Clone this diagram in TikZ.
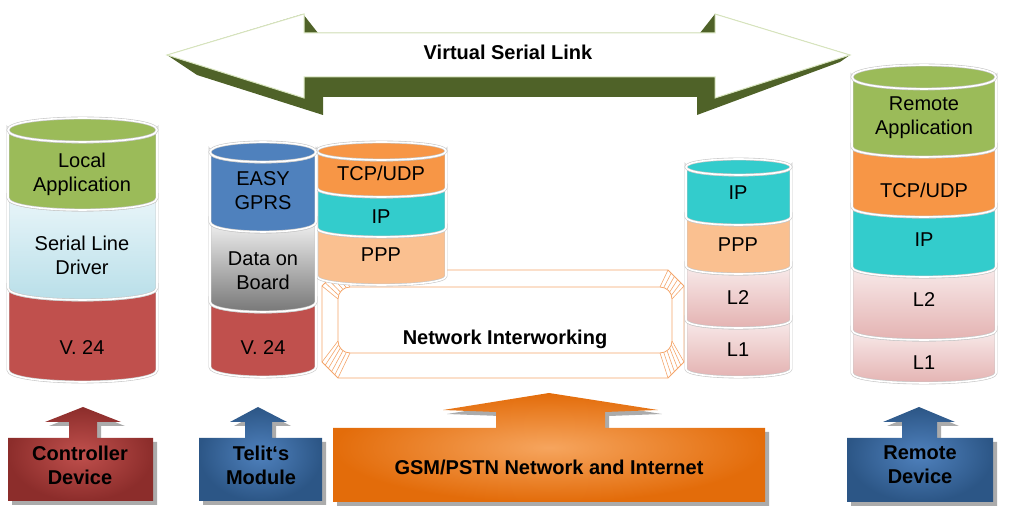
\documentclass[tikz,border=0pt]{standalone}
\usepackage{fontspec}
\setmainfont{Liberation Sans}
\usetikzlibrary{shadows}

\definecolor{appgreen}{HTML}{9BBB59}
\definecolor{v24red}{HTML}{C0504D}
\definecolor{gprsblue}{HTML}{4F81BD}
\definecolor{tcporange}{HTML}{F79646}
\definecolor{ipteal}{HTML}{33CCCC}
\definecolor{ppppeach}{HTML}{FAC090}
\definecolor{linkdark}{HTML}{4F6228}
\definecolor{linkrim}{HTML}{D7E4BD}
\definecolor{pinktop}{HTML}{F8EAEA}
\definecolor{pinkbot}{HTML}{E3B0AF}
\definecolor{drvtop}{HTML}{E8F5F9}
\definecolor{drvbot}{HTML}{B7DEE8}
\definecolor{boxred}{HTML}{8C2D2B}
\definecolor{boxblue}{HTML}{2C5686}
\definecolor{boxorange}{HTML}{E36C0A}
\definecolor{boxlight}{HTML}{F6A55E}
\definecolor{netline}{HTML}{F4A56A}

% one layer of a stack: left, right, top, bottom, ellipse radius, style
\newcommand{\stacklayer}[6]{%
  \path[#6] (#1,#3) -- (#1,#4) .. controls (#1,#4+1.33*#5) and (#2,#4+1.33*#5) .. (#2,#4)
    -- (#2,#3) .. controls (#2,#3+1.33*#5) and (#1,#3+1.33*#5) .. (#1,#3) -- cycle;}
% top face of a stack: left, right, top, ellipse radius, style
\newcommand{\stacktop}[5]{%
  \path[#5] (#1,#3) .. controls (#1,#3-1.33*#4) and (#2,#3-1.33*#4) .. (#2,#3)
    .. controls (#2,#3+1.33*#4) and (#1,#3+1.33*#4) .. (#1,#3) -- cycle;}

\begin{document}
\begin{tikzpicture}[x=1pt,y=-1pt,
    rim/.style={draw=black!22, double=white, double distance=1.6pt, line width=0.6pt},
    lbl/.style={font=\fontsize{20}{24}\selectfont, align=center, inner sep=0pt},
    blbl/.style={font=\fontsize{20}{24}\selectfont\bfseries, align=center, inner sep=0pt},
    boxshadow/.style={drop shadow={shadow xshift=4pt, shadow yshift=-4pt, fill=black!60, opacity=.55}},
    netpart/.style={draw=netline, line width=0.8pt}
    ]
\useasboundingbox (0,0) rectangle (1010,510);

% virtual serial link
\fill[linkdark] (167,55) -- (303,14) -- (318,33) -- (700,33) -- (715,14) -- (850,55) -- (840,62)
  -- (697,115) -- (697,97) -- (323,97) -- (323,115) -- (197,75) -- cycle;
\filldraw[fill=white, draw=linkrim, line width=1pt] (167,55) -- (304,14) -- (304,33) -- (715,33)
  -- (715,14) -- (850,55) -- (715,98) -- (715,77) -- (304,77) -- (304,98) -- cycle;
\node[blbl] (vsl) at (508,52) {Virtual Serial Link};

% network interworking
\draw[netpart] (338,270) -- (668,270) -- (684,286) -- (684,362) -- (668,378) -- (338,378)
  -- (322,362) -- (322,286) -- cycle;
\draw[netpart, rounded corners=12pt] (338,287) rectangle (672,353);
\foreach \a in {0,18,...,90} {
  \draw[netpart, line width=0.6pt] ({350-12*cos(\a)},{299-12*sin(\a)}) -- ({322+16*\a/90},{286-16*\a/90});
  \draw[netpart, line width=0.6pt] ({350-12*cos(\a)},{341+12*sin(\a)}) -- ({322+16*\a/90},{362+16*\a/90});
  \draw[netpart, line width=0.6pt] ({660+12*cos(\a)},{341+12*sin(\a)}) -- ({684-16*\a/90},{362+16*\a/90});
  \draw[netpart, line width=0.6pt] ({660+12*cos(\a)},{299-12*sin(\a)}) -- ({684-16*\a/90},{286-16*\a/90});
}
\node[blbl] (netint) at (505,339) {Network Interworking};

% module stack: TCP/UDP, IP, PPP
\stacklayer{317}{446}{228}{276}{9}{fill=ppppeach, rim}
\stacklayer{317}{446}{188}{228}{9}{fill=ipteal, rim}
\stacklayer{317}{446}{151}{188}{9}{fill=tcporange, rim}
\stacktop{317}{446}{151}{9}{fill=tcporange, rim}
\node[lbl] (tcpmod) at (381,173) {TCP/UDP};
\node[lbl] (ipmod) at (381,217) {IP};
\node[lbl] (pppmod) at (381,255) {PPP};

% module stack: EASY GPRS, Data on Board, V.24
\stacklayer{210}{316}{302}{367}{10}{fill=v24red, rim}
\stacklayer{210}{316}{222}{302}{10}{top color=black!6, bottom color=black!55, rim}
\stacklayer{210}{316}{152}{222}{10}{fill=gprsblue, rim}
\stacktop{210}{316}{152}{10}{fill=gprsblue, rim}
\node[lbl] (easy) at (263,191) {EASY\\GPRS};
\node[lbl] (dob) at (263,271) {Data on\\Board};
\node[lbl] (vmod) at (263,348) {V. 24};

% controller stack
\stacklayer{8}{157}{288}{370}{12}{fill=v24red, rim}
\stacklayer{8}{157}{198}{288}{12}{top color=drvtop, bottom color=drvbot, rim}
\stacklayer{8}{157}{130}{198}{12}{fill=appgreen, rim}
\stacktop{8}{157}{130}{12}{fill=appgreen, rim}
\node[lbl] (locapp) at (82,174) {Local\\Application};
\node[lbl] (sldriver) at (82,255) {Serial Line\\Driver};
\node[lbl] (vlocal) at (82,348) {V. 24};

% network stack
\stacklayer{686}{791}{320}{369}{8}{top color=pinktop, bottom color=pinkbot, rim}
\stacklayer{686}{791}{266}{320}{8}{top color=pinktop, bottom color=pinkbot, rim}
\stacklayer{686}{791}{217}{266}{8}{fill=ppppeach, rim}
\stacklayer{686}{791}{167}{217}{8}{fill=ipteal, rim}
\stacktop{686}{791}{167}{8}{fill=ipteal, rim}
\node[lbl] (ipnet) at (738,193) {IP};
\node[lbl] (pppnet) at (738,245) {PPP};
\node[lbl] (ltwo) at (738,298) {L2};
\node[lbl] (lone) at (738,350) {L1};

% remote stack
\stacklayer{852}{996}{330}{373}{10}{top color=pinktop, bottom color=pinkbot, rim}
\stacklayer{852}{996}{267}{330}{10}{top color=pinktop, bottom color=pinkbot, rim}
\stacklayer{852}{996}{207}{267}{10}{fill=ipteal, rim}
\stacklayer{852}{996}{147}{207}{10}{fill=tcporange, rim}
\stacklayer{852}{996}{77}{147}{10}{fill=appgreen, rim}
\stacktop{852}{996}{77}{12}{fill=appgreen, rim}
\node[lbl] (remapp) at (924,118) {Remote\\Application};
\node[lbl] (tcprem) at (924,190) {TCP/UDP};
\node[lbl] (iprem) at (924,240) {IP};
\node[lbl] (ltworem) at (924,300) {L2};
\node[lbl] (lonerem) at (924,363) {L1};

% devices
\path[inner color=v24red, outer color=boxred, boxshadow] (8,438) -- (69,438) -- (69,422) -- (45,422)
  -- (83,407) -- (121,422) -- (97,422) -- (97,438) -- (153,438) -- (153,501) -- (8,501) -- cycle;
\node[blbl] (ctrl) at (80,465) {Controller\\Device};

\path[inner color=gprsblue, outer color=boxblue, boxshadow] (199,438) -- (245,438) -- (245,422) -- (230,422)
  -- (258,407) -- (287,422) -- (272,422) -- (272,438) -- (322,438) -- (322,501) -- (199,501) -- cycle;
\node[blbl] (telit) at (261,465) {Telit‘s\\Module};

\path[inner color=boxlight, outer color=boxorange, boxshadow] (333,428) -- (496,428) -- (496,412) -- (443,410)
  -- (549,393) -- (658,410) -- (605,412) -- (605,428) -- (765,428) -- (765,502) -- (333,502) -- cycle;
\node[blbl] (gsm) at (549,467) {GSM/PSTN Network and Internet};

\path[inner color=gprsblue, outer color=boxblue, boxshadow] (847,438) -- (902,438) -- (902,422) -- (883,422)
  -- (919,407) -- (955,422) -- (937,422) -- (937,438) -- (993,438) -- (993,502) -- (847,502) -- cycle;
\node[blbl] (remdev) at (920,465) {Remote\\Device};
\end{tikzpicture}
\end{document}
